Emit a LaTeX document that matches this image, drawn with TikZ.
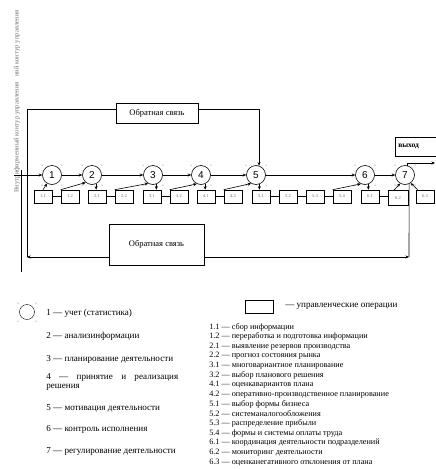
\documentclass[tikz,border=0pt]{standalone}
\usepackage{fontspec}
\setmainfont{Liberation Serif}
\newfontfamily\cifry{Liberation Sans}
\usetikzlibrary{arrows.meta}

\tikzset{
  etap/.style={circle,draw,minimum size=19pt,inner sep=0pt,font=\cifry\fontsize{10}{10}\selectfont},
  oper/.style={draw,minimum width=18pt,minimum height=13pt,inner sep=0pt,font=\fontsize{4.5}{5}\selectfont,text=black!60},
  svyaz/.style={draw,font=\fontsize{8.5}{10}\selectfont},
  arr/.style={-{Stealth[length=3.5pt,width=3pt]}},
  leg/.style={anchor=west,inner sep=0pt,font=\fontsize{9.1}{10}\selectfont},
  spis/.style={anchor=west,inner sep=0pt,font=\fontsize{8.2}{9}\selectfont},
  kontur/.style={rotate=90,anchor=west,inner sep=0pt,text=black!55,font=\fontsize{6.7}{7}\selectfont},
}

\begin{document}
\begin{tikzpicture}[x=1pt,y=-1pt,line width=0.6pt]
\clip (0,0) rectangle (436,469);

% Kontur
\node[kontur] (vnutr) at (17,193) {Внутрифирменный контур управления};
\node[kontur] (vnesh) at (17,77) {ний контур управления};
\coordinate (os1) at (21,170);
\coordinate (os2) at (21,272);
\draw (os1) -- (os2);

% Etapy
\node[etap] (c1) at (52,175) {1};
\node[etap] (c2) at (92,175) {2};
\node[etap] (c3) at (153,175) {3};
\node[etap] (c4) at (201,175) {4};
\node[etap] (c5) at (256,175) {5};
\node[etap] (c6) at (365,175) {6};
\node[etap] (c7) at (405,175) {7};

\foreach \c in {c1,c2,c3,c4,c5,c6,c7}
  \foreach \dx/\dy in {-10/-10,10/-10,-10/10,10/10}
    \fill[black!70] ([shift={(\dx,\dy)}]\c) circle (0.5);

\coordinate (vhod) at (14,175);
\draw[arr] (vhod) -- (c1);
\draw[arr] (c1) -- (c2);
\draw[arr] (c2) -- (c3);
\draw[arr] (c3) -- (c4);
\draw[arr] (c4) -- (c5);
\draw[arr] (c5) -- (c6);
\draw[arr] (c6) -- (c7);

% Operacii
\node[oper] (o11) at (43,196.5) {1.1};
\node[oper] (o12) at (70,196.5) {1.2};
\node[oper] (o21) at (97,196.5) {2.1};
\node[oper] (o22) at (124,196.5) {2.2};
\node[oper] (o31) at (152,196.5) {3.1};
\node[oper] (o32) at (179,196.5) {3.2};
\node[oper] (o41) at (206,196.5) {4.1};
\node[oper] (o42) at (233,196.5) {4.2};
\node[oper] (o51) at (261,196.5) {5.1};
\node[oper] (o52) at (288,196.5) {5.2};
\node[oper] (o53) at (315,196.5) {5.3};
\node[oper] (o54) at (342,196.5) {5.4};
\node[oper] (o61) at (370,196.5) {6.1};
\node[oper,minimum width=20pt,minimum height=15pt] (o62) at (398,198) {\raisebox{-2pt}{6.2}};
\node[oper] (o63) at (425,196.5) {6.3};

\draw (o11) -- (o12);
\draw (o21) -- (o22);
\draw (o31) -- (o32);
\draw (o41) -- (o42);
\draw (o51) -- (o52);
\draw (o52) -- (o53);
\draw (o53) -- (o54);
\draw (o61.east) -- (o61.east -| o62.west);

\draw[arr] (o11.north) -- (c1.240);
\draw[arr] (o12.north west) -- (c2.230);
\draw[arr] (c2.295) -- (c2.295 |- o21.north);
\draw[arr] (o22.north west) -- (c3.240);
\draw[arr] (c3.290) -- (c3.290 |- o31.north);
\draw[arr] (o32.north west) -- (c4.245);
\draw[arr] (c4.295) -- (c4.295 |- o41.north);
\draw[arr] (o42.north west) -- (c5.240);
\draw[arr] (c5.290) -- (c5.290 |- o51.north);
\draw[arr] (o54.north west) -- (c6.245);
\draw[arr] (c6.290) -- (c6.290 |- o61.north);
\draw[arr] ([xshift=-4pt]o62.north) -- (c7.240);
\draw[arr] ([xshift=2pt]o63.north west) -- (c7.305);

% Vyhod
\node[draw,anchor=west,text width=40pt,align=left,inner xsep=3pt,minimum height=19pt,font=\bfseries\fontsize{7.5}{8}\selectfont] (vyhod) at (395,146.5) {выход};
\coordinate (vyh) at (435,163);
\draw[arr] (c7.75) |- (vyh);

% Obratnaya svyaz
\node[svyaz,minimum width=82pt,minimum height=20pt] (fb1) at (157,113) {Обратная связь};
\node[svyaz,minimum width=95pt,minimum height=41pt] (fb2) at (156.5,244.5) {Обратная связь};
\coordinate (lt) at (27,109);
\coordinate (lb) at (27,257);
\coordinate (rb) at (409,257);
\draw (fb1.west |- lt) -- (lt) -- (lb);
\draw[arr] (fb1.east |- lt) -- (c5.72 |- lt) -- (c5.72);
\draw[arr] (fb2.west |- lb) -- (lb);
\draw[arr] (fb2.east |- rb) -- (rb);
\draw (c7.295) -- (rb);

% Legenda
\node[circle,draw,line width=0.4pt,minimum size=15pt] (lkrug) at (27,312) {};
\foreach \dx/\dy in {-9/-9,9/-9,-9/9,9/9}
  \fill[black!70] ([shift={(\dx,\dy)}]lkrug) circle (0.5);
\node[leg] (l1) at (46,313) {1 — учет (статистика)};
\node[leg] (l2) at (46,336) {2 — анализинформации};
\node[leg] (l3) at (46,359) {3 — планирование деятельности};
\node[leg,anchor=north west,align=left] (l4) at (46,373) {\makebox[132pt][s]{4 — принятие и реализация}\\[-1pt]решения};
\node[leg] (l5) at (46,408) {5 — мотивация деятельности};
\node[leg] (l6) at (46,429) {6 — контроль исполнения};
\node[leg] (l7) at (46,451) {7 — регулирование деятельности};

\node[draw,minimum width=28pt,minimum height=13pt] (lpryam) at (259,307) {};
\node[leg] (lop) at (285,306) {— управленческие операции};

\foreach \t [count=\n] in {
  1.1 — сбор информации,
  1.2 — переработка и подготовка информации,
  2.1 — выявление резервов производства,
  2.2 — прогноз состояния рынка,
  3.1 — многовариантное планирование,
  3.2 — выбор планового решения,
  4.1 — оценкавариантов плана,
  4.2 — оперативно-производственное планирование,
  5.1 — выбор формы бизнеса,
  5.2 — системаналогообложения,
  5.3 — распределение прибыли,
  5.4 — формы и системы оплаты труда,
  6.1 — координация деятельности подразделений,
  6.2 — мониторинг деятельности,
  6.3 — оценканегативного отклонения от плана}
  \node[spis] (p\n) at (209,{317.35+9.65*\n}) {\t};

\end{tikzpicture}
\end{document}
